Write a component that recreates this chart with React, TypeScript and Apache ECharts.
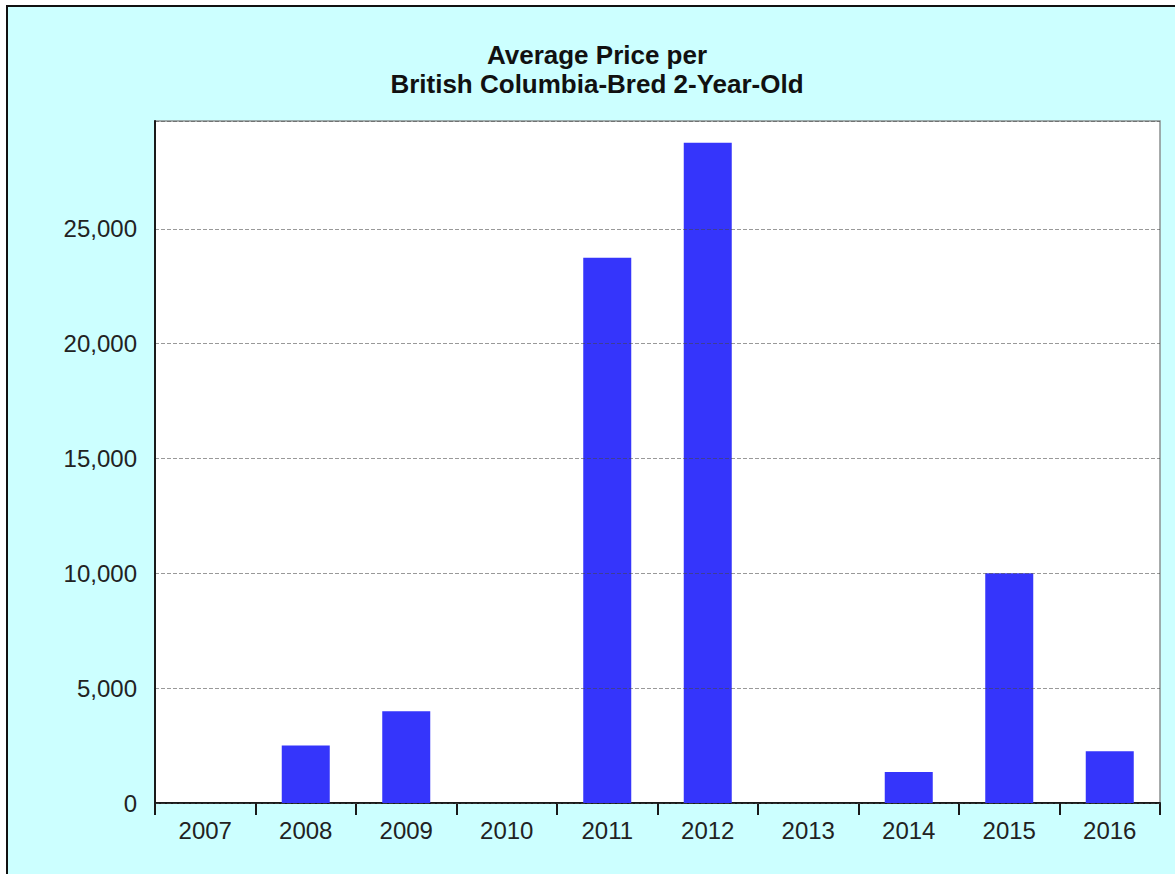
import React, { useEffect, useRef } from "react";
import * as echarts from "echarts";

const years = ["2007", "2008", "2009", "2010", "2011", "2012", "2013", "2014", "2015", "2016"];
const avgPrice = [0, 2500, 4000, 0, 23750, 28750, 0, 1350, 10000, 2250];
const titleLines = ["Average Price per", "British Columbia-Bred 2-Year-Old"];

export default function App() {
  const ref = useRef<HTMLDivElement>(null);
  useEffect(() => {
    if (!ref.current) return;
    const chart = echarts.init(ref.current, undefined, { renderer: "svg" });
    chart.setOption({
      animation: false,
      backgroundColor: "#ffffff",
      graphic: [
        {
          type: "rect",
          z: -10,
          silent: true,
          shape: { x: 7, y: 6, width: 1200, height: 900 },
          style: { fill: "#ccffff", stroke: "#111111", lineWidth: 2 },
        },
        {
          type: "text",
          x: 597,
          y: 40,
          z: 10,
          style: {
            text: titleLines.join("\n"),
            fill: "#111111",
            font: "bold 26px 'Liberation Sans', Arial, sans-serif",
            lineHeight: 29,
            align: "center",
            verticalAlign: "top",
          },
        },
      ],
      grid: {
        left: 155,
        top: 121,
        right: 15,
        bottom: 71,
        show: true,
        backgroundColor: "#ffffff",
        borderColor: "#8a9090",
        borderWidth: 1.5,
        containLabel: false,
      },
      xAxis: {
        type: "category",
        data: years,
        axisLine: { show: true, lineStyle: { color: "#1a1a1a", width: 2 } },
        axisTick: { show: true, length: 12, lineStyle: { color: "#1a1a1a", width: 2 } },
        axisLabel: {
          color: "#222222",
          fontSize: 24,
          fontFamily: "'Liberation Sans', Arial, sans-serif",
          margin: 15,
        },
      },
      yAxis: {
        type: "value",
        min: 0,
        max: 29700,
        interval: 5000,
        z: 3,
        axisLine: { show: true, lineStyle: { color: "#1a1a1a", width: 2 } },
        axisTick: { show: false },
        axisLabel: {
          color: "#222222",
          fontSize: 24,
          fontFamily: "'Liberation Sans', Arial, sans-serif",
          margin: 18,
          showMaxLabel: false,
          formatter: (v: number) => v.toLocaleString("en-US"),
        },
        splitLine: {
          show: true,
          lineStyle: { color: "rgba(70,70,70,0.55)", type: [4, 2], width: 1 },
        },
      },
      series: [
        {
          type: "bar",
          data: avgPrice,
          barWidth: 48,
          itemStyle: { color: "#3535fb" },
        },
      ],
    });
    return () => chart.dispose();
  }, []);
  return (
    <div
      ref={ref}
      style={{ position: "fixed", left: 0, top: 0, width: 1175, height: 874 }}
    />
  );
}
